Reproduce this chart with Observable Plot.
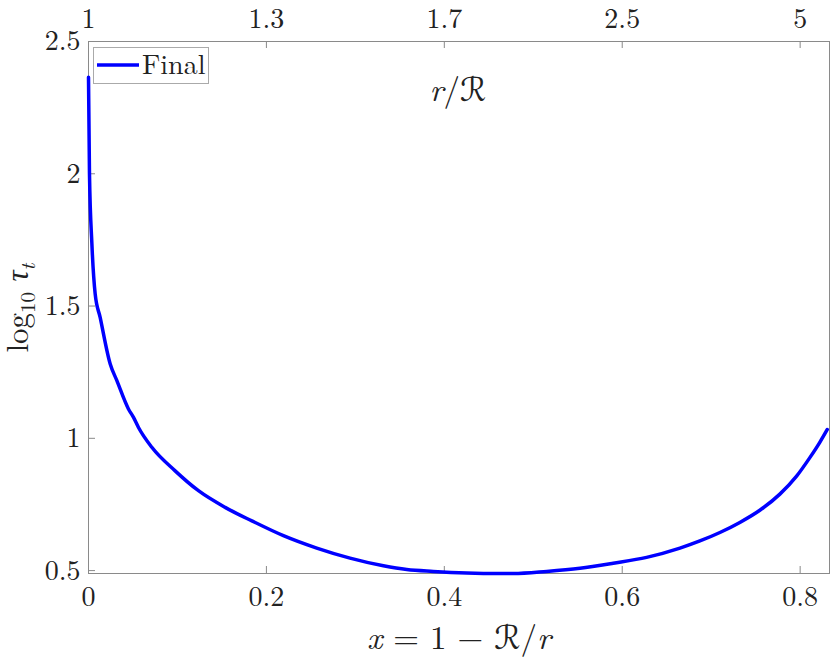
<!DOCTYPE html>
<html><head><meta charset="utf-8">
<script src="https://cdn.jsdelivr.net/npm/d3@7"></script>
<script src="https://cdn.jsdelivr.net/npm/@observablehq/plot@0.6"></script>
<style>
body{margin:0;background:#fff}
#chart{position:relative;width:830px;height:659px}
</style>
</head><body><div id="chart"></div>
<script>
// data
const xValues = [0, 0.0011, 0.0038, 0.0075, 0.0131, 0.0244, 0.0319, 0.0449, 0.0506, 0.0562, 0.0712, 0.0974, 0.1236, 0.1536, 0.1836, 0.2191, 0.2566, 0.2940, 0.3315, 0.3578, 0.3876, 0.4252, 0.4626, 0.4775, 0.5151, 0.5525, 0.5899, 0.6274, 0.6649, 0.6873, 0.7098, 0.7322, 0.7547, 0.7772, 0.7960, 0.8109, 0.8221, 0.8304];
const tauValues = [2.365, 2.0, 1.736, 1.546, 1.457, 1.281, 1.218, 1.111, 1.079, 1.041, 0.966, 0.877, 0.802, 0.739, 0.688, 0.632, 0.585, 0.547, 0.518, 0.504, 0.497, 0.491, 0.489, 0.489, 0.497, 0.509, 0.528, 0.550, 0.585, 0.612, 0.644, 0.682, 0.728, 0.789, 0.857, 0.927, 0.985, 1.033];
const seriesName = "Final";
const xTicks = [0, 0.2, 0.4, 0.6, 0.8];
const xTickLabels = ["0", "0.2", "0.4", "0.6", "0.8"];
const rTickLabels = ["1", "1.3", "1.7", "2.5", "5"];
const yTicks = [0.5, 1, 1.5, 2, 2.5];
const yTickLabels = ["0.5", "1", "1.5", "2", "2.5"];
const xDomain = [0, 0.833];
const yDomain = [0.489, 2.5];

const data = xValues.map((x, i) => ({x, tau: tauValues[i]}));

const FONT = "'Latin Modern Roman','CMU Serif','Liberation Serif','DejaVu Serif',serif";
const axisColor = "#8a8a8a";
const textColor = "#222";
const TICK_FS = 28;

const plot = Plot.plot({
  width: 830,
  height: 659,
  marginLeft: 88,
  marginRight: 1,
  marginTop: 41,
  marginBottom: 86,
  style: {fontFamily: FONT, background: "#fff", color: textColor, overflow: "visible"},
  x: {domain: xDomain, label: null},
  y: {domain: yDomain, label: null},
  marks: [
    Plot.frame({stroke: axisColor, strokeWidth: 1}),
    // inside ticks
    Plot.ruleX(xTicks, {x: d => d, y1: yDomain[0], y2: yDomain[0], insetTop: -7, stroke: axisColor}),
    Plot.ruleX(xTicks, {x: d => d, y1: yDomain[1], y2: yDomain[1], insetBottom: -7, stroke: axisColor}),
    Plot.ruleY(yTicks, {y: d => d, x1: xDomain[0], x2: xDomain[0], insetRight: -7, stroke: axisColor}),
    Plot.axisX({anchor: "bottom", ticks: xTicks, tickFormat: d => xTickLabels[xTicks.indexOf(d)], tickSize: 0, tickPadding: 13, fontSize: TICK_FS, label: null, fill: textColor}),
    Plot.axisX({anchor: "top", ticks: xTicks, tickFormat: d => rTickLabels[xTicks.indexOf(d)], tickSize: 0, tickPadding: 14, fontSize: TICK_FS, label: null, fill: textColor}),
    Plot.axisY({anchor: "left", ticks: yTicks, tickFormat: d => yTickLabels[yTicks.indexOf(d)], tickSize: 0, tickPadding: 8, fontSize: TICK_FS, label: null, fill: textColor}),
    Plot.line(data, {x: "x", y: "tau", stroke: "#0000ff", strokeWidth: 3.5, curve: "monotone-x"})
  ]
});
document.getElementById("chart").appendChild(plot);

const svg = d3.select(plot);
const SCRIPT_FONT = "'DejaVu Serif','DejaVu Sans','Noto Sans',serif";

// x axis title: x = 1 − ℛ/r
const xt = svg.append("text").attr("x", 459).attr("y", 649).attr("text-anchor", "middle")
  .style("font-family", FONT).style("font-size", "33px").attr("fill", textColor);
xt.append("tspan").style("font-style", "italic").text("x");
xt.append("tspan").text(" = 1 − ");
xt.append("tspan").style("font-family", SCRIPT_FONT).style("font-style", "italic").text("ℛ");
xt.append("tspan").text("/");
xt.append("tspan").style("font-style", "italic").text("r");

// top axis title: r/ℛ
const rt = svg.append("text").attr("x", 458).attr("y", 101).attr("text-anchor", "middle")
  .style("font-family", FONT).style("font-size", "33px").attr("fill", textColor);
rt.append("tspan").style("font-style", "italic").text("r");
rt.append("tspan").text("/");
rt.append("tspan").style("font-family", SCRIPT_FONT).style("font-style", "italic").text("ℛ");

// y axis title: log10 τt
const yt = svg.append("text").attr("transform", "translate(28,308) rotate(-90)").attr("text-anchor", "middle")
  .style("font-family", FONT).style("font-size", "31px").attr("fill", textColor);
yt.append("tspan").text("log");
yt.append("tspan").attr("dy", "7").style("font-size", "21px").text("10");
yt.append("tspan").attr("dy", "-7").text(" ");
yt.append("tspan").style("font-style", "italic").text("τ");
yt.append("tspan").attr("dy", "7").style("font-size", "21px").style("font-style", "italic").text("t");

// legend
const lg = svg.append("g");
lg.append("rect").attr("x", 93.5).attr("y", 47.5).attr("width", 115).attr("height", 36)
  .attr("fill", "#fff").attr("stroke", "#aaa").attr("stroke-width", 1);
lg.append("line").attr("x1", 97).attr("x2", 139).attr("y1", 65).attr("y2", 65)
  .attr("stroke", "#0000ff").attr("stroke-width", 3.5);
lg.append("text").attr("x", 142).attr("y", 74).attr("text-anchor", "start")
  .style("font-family", FONT).style("font-size", "28px")
  .attr("fill", textColor).text(seriesName);
</script>
</body></html>
